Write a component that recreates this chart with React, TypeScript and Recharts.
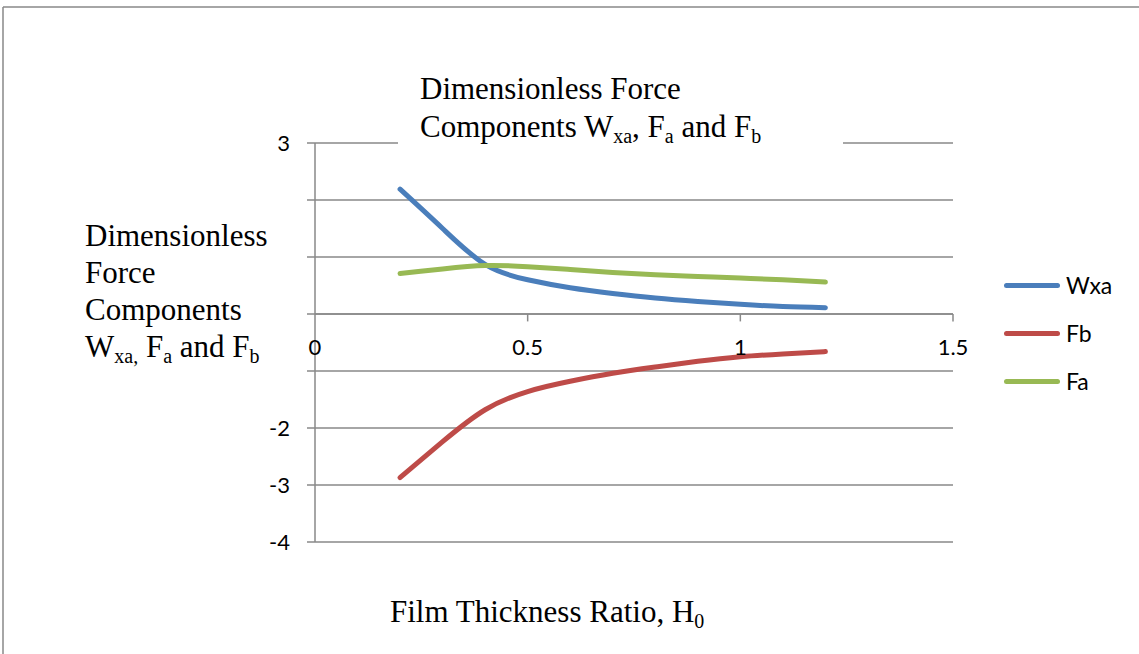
import React from 'react';
import { LineChart, Line, XAxis, YAxis, CartesianGrid, ReferenceLine, ReferenceDot } from 'recharts';

// Film thickness ratio H0 (x values)
const H0 = [0.2, 0.3, 0.4, 0.5, 0.6, 0.7, 0.8, 0.9, 1.0, 1.1, 1.2];
// Series values
const WXA = [2.19, 1.5, 0.87, 0.6, 0.46, 0.36, 0.28, 0.22, 0.17, 0.13, 0.11];
const FB = [-2.87, -2.24, -1.68, -1.36, -1.18, -1.04, -0.93, -0.83, -0.75, -0.7, -0.66];
const FA = [0.71, 0.79, 0.85, 0.83, 0.78, 0.73, 0.69, 0.66, 0.63, 0.6, 0.56];

const X_TICKS = [0, 0.5, 1, 1.5];
const Y_TICKS = [-4, -3, -2, -1, 0, 1, 2, 3];
const Y_LABELS_SHOWN = [3, -2, -3, -4];

const SERIES = [
  { key: 'wxa', name: 'Wxa', color: '#4A7EBB' },
  { key: 'fb', name: 'Fb', color: '#BE4B48' },
  { key: 'fa', name: 'Fa', color: '#98B954' },
];

const data = H0.map((h, i) => ({ h, wxa: WXA[i], fb: FB[i], fa: FA[i] }));

const GRID = '#898989';
const SERIF = '"Liberation Serif", "Times New Roman", serif';
const SANS = 'Lato, "Open Sans", sans-serif';
const SUB = 20;
const SHIFT = 6;

const YTick = (props: any) => {
  const { x, y, payload } = props;
  const v = payload?.value;
  if (!Y_LABELS_SHOWN.includes(v)) return <g />;
  return (
    <text x={x} y={y} dy="0.355em" textAnchor="end" fill="#000" fontSize={22} fontFamily={SANS}>
      {String(v)}
    </text>
  );
};

export default function App() {
  return (
    <div style={{ position: 'absolute', left: 0, top: 0, width: 1139, height: 654, overflow: 'hidden', background: '#fff' }}>
      <LineChart
        width={1139}
        height={654}
        data={data}
        margin={{ top: 143, right: 186, bottom: 112, left: 255 }}
      >
        <CartesianGrid vertical={false} stroke={GRID} strokeWidth={1.5} />
        <XAxis dataKey="h" type="number" domain={[0, 1.5]} ticks={X_TICKS} hide />
        <YAxis
          type="number"
          domain={[-4, 3]}
          ticks={Y_TICKS}
          interval={0}
          width={60}
          axisLine={{ stroke: GRID, strokeWidth: 1.5 }}
          tickLine={{ stroke: GRID, strokeWidth: 1.5 }}
          tickSize={8}
          tickMargin={17}
          tick={<YTick />}
        />
        <ReferenceLine y={0} stroke={GRID} strokeWidth={1.5} />
        {X_TICKS.filter((t) => t > 0).map((t) => (
          <ReferenceLine
            key={'tm' + t}
            segment={[{ x: t, y: 0 }, { x: t, y: -0.13 }]}
            stroke={GRID}
            strokeWidth={1.5}
            ifOverflow="visible"
          />
        ))}
        {X_TICKS.map((t) => (
          <ReferenceDot
            key={'tl' + t}
            x={t}
            y={0}
            r={1}
            fill="none"
            stroke="none"
            ifOverflow="visible"
            label={{ value: String(t), position: 'bottom', offset: 24, fill: '#000', fontSize: 22, fontFamily: SANS }}
          />
        ))}
        {SERIES.map((s) => (
          <Line
            key={s.key}
            type="natural"
            dataKey={s.key}
            name={s.name}
            stroke={s.color}
            strokeWidth={5}
            strokeLinecap="round"
            dot={false}
            activeDot={false}
            isAnimationActive={false}
          />
        ))}
      </LineChart>

      <svg
        width={1139}
        height={654}
        style={{ position: 'absolute', left: 0, top: 0, pointerEvents: 'none' }}
      >
        {/* outer frame */}
        <line x1={3} y1={7} x2={1139} y2={7} stroke={GRID} strokeWidth={1.5} />
        <line x1={3} y1={7} x2={3} y2={654} stroke={GRID} strokeWidth={1.5} />

        {/* chart title */}
        <rect x={398} y={62} width={445} height={88} fill="#fff" />
        <text x={420} y={99} fontFamily={SERIF} fontSize={31} fill="#000">Dimensionless Force</text>
        <text x={420} y={137} fontFamily={SERIF} fontSize={31} fill="#000">
          <tspan>Components W</tspan>
          <tspan fontSize={SUB} dy={SHIFT}>xa</tspan>
          <tspan dy={-SHIFT}>, F</tspan>
          <tspan fontSize={SUB} dy={SHIFT}>a</tspan>
          <tspan dy={-SHIFT}> and F</tspan>
          <tspan fontSize={SUB} dy={SHIFT}>b</tspan>
        </text>

        {/* y-axis title */}
        <text x={85} y={246} fontFamily={SERIF} fontSize={31} fill="#000">Dimensionless</text>
        <text x={85} y={283} fontFamily={SERIF} fontSize={31} fill="#000">Force</text>
        <text x={85} y={320} fontFamily={SERIF} fontSize={31} fill="#000">Components</text>
        <text x={85} y={357} fontFamily={SERIF} fontSize={31} fill="#000">
          <tspan>W</tspan>
          <tspan fontSize={SUB} dy={SHIFT}>xa,</tspan>
          <tspan dy={-SHIFT}> F</tspan>
          <tspan fontSize={SUB} dy={SHIFT}>a</tspan>
          <tspan dy={-SHIFT}> and F</tspan>
          <tspan fontSize={SUB} dy={SHIFT}>b</tspan>
        </text>

        {/* x-axis title */}
        <text x={390} y={622} fontFamily={SERIF} fontSize={31} fill="#000">
          <tspan>Film Thickness Ratio, H</tspan>
          <tspan fontSize={SUB} dy={SHIFT}>0</tspan>
        </text>
      </svg>

      {/* legend */}
      <div style={{ position: 'absolute', left: 1004, top: 261, fontFamily: SANS, fontSize: 23, color: '#000' }}>
        {SERIES.map((s) => (
          <div key={s.key} style={{ display: 'flex', alignItems: 'center', height: 48 }}>
            <div style={{ width: 56, height: 5, borderRadius: 3, background: s.color, marginRight: 6 }} />
            <span style={{ lineHeight: '48px' }}>{s.name}</span>
          </div>
        ))}
      </div>
    </div>
  );
}
